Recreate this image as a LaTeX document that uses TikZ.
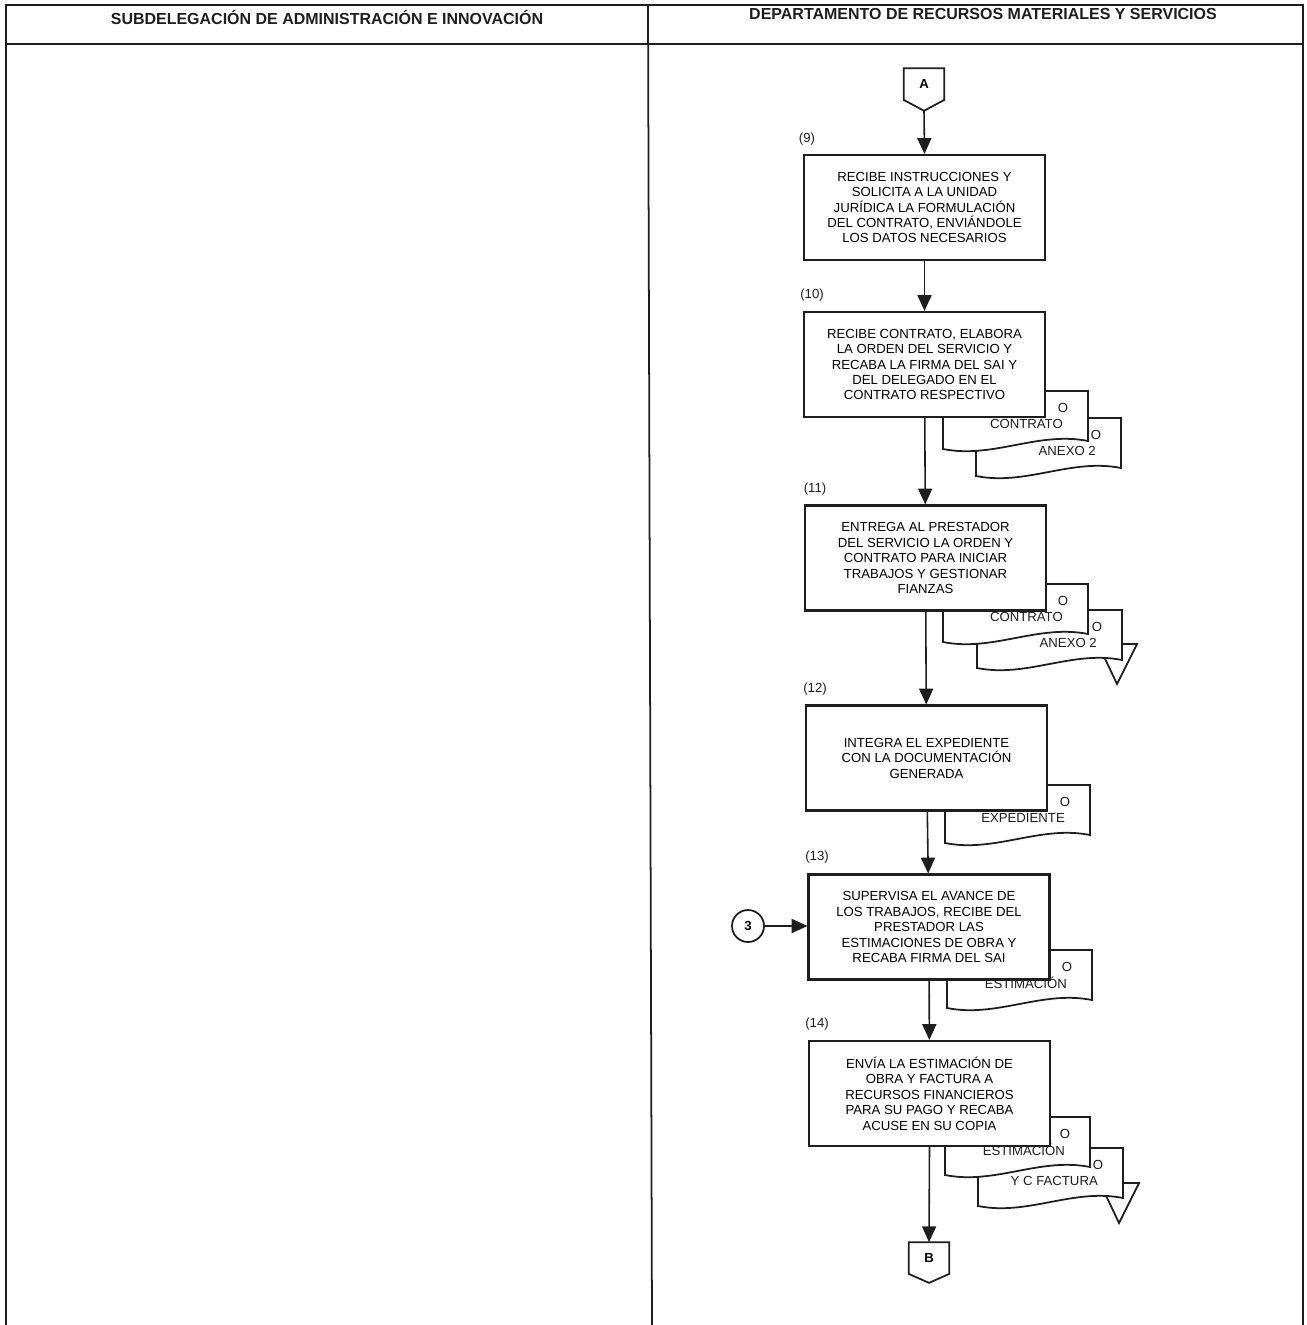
\documentclass[tikz,border=0pt]{standalone}
\usepackage{fontspec}
\setmainfont{Liberation Sans}
\usepackage{tikz}
\usetikzlibrary{arrows.meta, calc}
\definecolor{my_ink}{HTML}{1E1E1E}
\newcommand{\pasofont}{\fontsize{7.5}{8.8}\selectfont}
\newcommand{\headfont}{\fontsize{9.1}{10}\selectfont\bfseries}
% documento con borde inferior ondulado: izquierda, arriba, texto
\newcommand{\docfile}[3]{%
    \filldraw[my_ink, fill=white, line width=1pt]
        (#1, #2 + 58) -- (#1, #2) -- (#1 + 145, #2) -- (#1 + 145, #2 + 50)
        .. controls (#1 + 95, #2 + 40) and (#1 + 50, #2 + 68) .. (#1, #2 + 58) -- cycle;
    \node[font=\pasofont, my_ink] at (#1 + 120, #2 + 17) {O};
    \node[font=\pasofont, my_ink, anchor=east] at (#1 + 126, #2 + 33) {#3};
}
% archivo (triangulo invertido): vertice superior izquierdo
\newcommand{\archivo}[2]{%
    \filldraw[my_ink, fill=white, line width=1pt]
        (#1, #2) -- (#1 + 39, #2) -- (#1 + 19, #2 + 40) -- cycle;
}

\begin{document}
\begin{tikzpicture}[
    x=0.02cm, y=-0.02cm,
    paso/.style={draw=my_ink, fill=white, line width=1.2pt, minimum width=4.82cm,
        minimum height=2.1cm, align=center, font=\pasofont, inner sep=2pt},
    numero/.style={font=\pasofont, my_ink},
    conector/.style={minimum width=0.8cm, minimum height=0.62cm, inner sep=0pt,
        font=\pasofont\bfseries},
    flecha/.style={my_ink, line width=0.9pt, -{Triangle[length=9pt, width=8pt]}}
]
\useasboundingbox (0, 0) rectangle (1307, 1325);

% ---- Marco y encabezados ----
\draw[my_ink, line width=1pt] (6, 1325) -- (6, 5) -- (1303, 5) -- (1303, 1325);
\draw[my_ink, line width=1pt] (6, 44) -- (1303, 44);
\draw[my_ink, line width=1pt] (648, 5) -- (652, 1325);
\node[font=\headfont, my_ink] (col1) at (327, 17) {SUBDELEGACIÓN DE ADMINISTRACIÓN E INNOVACIÓN};
\node[font=\headfont, my_ink] (col2) at (983, 14) {DEPARTAMENTO DE RECURSOS MATERIALES Y SERVICIOS};

% ---- Documentos (detras de los pasos) ----
\docfile{976}{418}{ANEXO 2}
\docfile{943}{391}{CONTRATO}
\archivo{1098}{644}
\docfile{977}{610}{ANEXO 2}
\docfile{943}{584}{CONTRATO}
\docfile{945}{785}{EXPEDIENTE}
\docfile{947}{950}{ESTIMACIÓN}
\archivo{1100}{1183}
\docfile{978}{1148}{Y C FACTURA}
\docfile{945}{1117}{ESTIMACIÓN}

% ---- Conectores de pagina ----
\node[conector] (A) at (924, 84) {A};
\coordinate (Apunta) at ($(A.south) + (0, 11)$);
\draw[my_ink, line width=1pt] (A.north west) -- (A.north east) -- (A.south east)
    -- (Apunta) -- (A.south west) -- cycle;
\node[conector] (B) at (929, 1258) {B};
\coordinate (Bpunta) at ($(B.south) + (0, 9)$);
\draw[my_ink, line width=1pt] (B.north west) -- (B.north east) -- (B.south east)
    -- (Bpunta) -- (B.south west) -- cycle;
\node[draw=my_ink, circle, line width=1pt, minimum size=0.64cm, inner sep=0pt,
    font=\pasofont\bfseries] (c3) at (748, 926) {3};

% ---- Pasos ----
\node[paso] (p9) at (924.5, 207.5) {RECIBE INSTRUCCIONES Y\\SOLICITA A LA UNIDAD\\JURÍDICA LA FORMULACIÓN\\DEL CONTRATO, ENVIÁNDOLE\\LOS DATOS NECESARIOS};
\node[paso] (p10) at (924.5, 364.5) {RECIBE CONTRATO, ELABORA\\LA ORDEN DEL SERVICIO Y\\RECABA LA FIRMA DEL SAI Y\\DEL DELEGADO EN EL\\CONTRATO RESPECTIVO};
\node[paso] (p11) at (925.5, 558) {ENTREGA AL PRESTADOR\\DEL SERVICIO LA ORDEN Y\\CONTRATO PARA INICIAR\\TRABAJOS Y GESTIONAR\\FIANZAS};
\node[paso] (p12) at (926.5, 758) {INTEGRA EL EXPEDIENTE\\CON LA DOCUMENTACIÓN\\GENERADA};
\node[paso] (p13) at (929, 927) {SUPERVISA EL AVANCE DE\\LOS TRABAJOS, RECIBE DEL\\PRESTADOR LAS\\ESTIMACIONES DE OBRA Y\\RECABA FIRMA DEL SAI};
\node[paso] (p14) at (929.5, 1093.5) {ENVÍA LA ESTIMACIÓN DE\\OBRA Y FACTURA A\\RECURSOS FINANCIEROS\\PARA SU PAGO Y RECABA\\ACUSE EN SU COPIA};

% ---- Numeros ----
\node[numero] (n9) at (807, 139) {(9)};
\node[numero] (n10) at (812, 295) {(10)};
\node[numero] (n11) at (815, 489) {(11)};
\node[numero] (n12) at (815, 689) {(12)};
\node[numero] (n13) at (817, 857) {(13)};
\node[numero] (n14) at (817, 1024) {(14)};

% ---- Flechas ----
\draw[flecha] (Apunta) -- (p9.north);
\draw[flecha] (p9) -- (p10);
\draw[flecha] (p10) -- (p11);
\draw[flecha] (p11) -- (p12);
\draw[flecha] (p12) -- (p13);
\draw[flecha] (p13) -- (p14);
\draw[flecha] (p14.south) -- (B.north);
\draw[flecha] (c3) -- (c3 -| p13.west);

\end{tikzpicture}
\end{document}
